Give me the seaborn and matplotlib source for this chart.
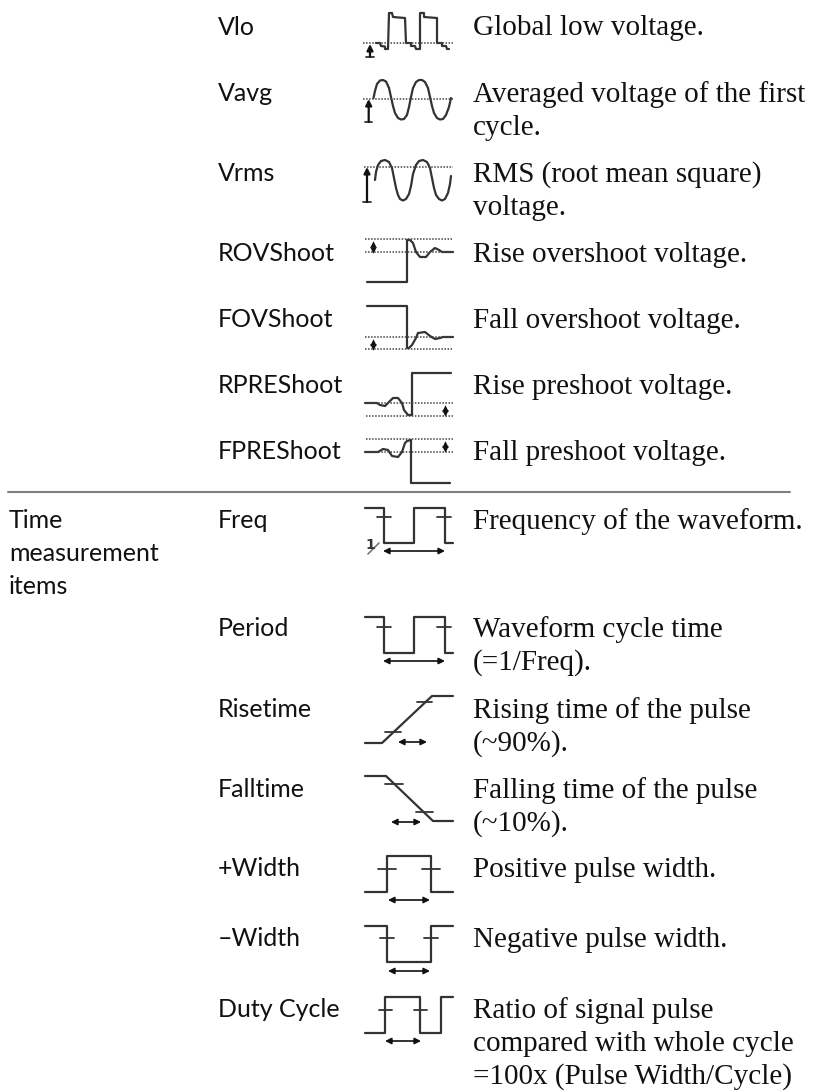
import matplotlib
matplotlib.use("Agg")
import matplotlib.pyplot as plt
import pandas as pd
import seaborn as sns

sns.set_style("white")

# table text: (x col text, baseline)
group_lines = ["Time", "measurement", "items"]
group_base = [528, 561, 594]

labels = ["Vlo", "Vavg", "Vrms", "ROVShoot", "FOVShoot", "RPREShoot", "FPREShoot",
          "Freq", "Period", "Risetime", "Falltime", "+Width", "–Width", "Duty Cycle"]
label_base = [35, 101, 181, 261, 327, 393, 459, 528, 636, 717, 797, 876, 946, 1017]

desc_lines = ["Global low voltage.", "Averaged voltage of the first", "cycle.",
              "RMS (root mean square)", "voltage.", "Rise overshoot voltage.",
              "Fall overshoot voltage.", "Rise preshoot voltage.", "Fall preshoot voltage.",
              "Frequency of the waveform.", "Waveform cycle time", "(=1/Freq).",
              "Rising time of the pulse", "(~90%).", "Falling time of the pulse", "(~10%).",
              "Positive pulse width.", "Negative pulse width.", "Ratio of signal pulse",
              "compared with whole cycle", "=100x (Pulse Width/Cycle)"]
desc_base = [35, 102, 135, 182, 215, 262, 328, 394, 460, 529, 637, 670, 718, 751,
             798, 831, 877, 947, 1018, 1051, 1084]

# waveforms
vlo_x = [376, 380, 381, 385, 385, 388, 389, 392, 393, 405, 406, 411, 411, 415, 416, 420, 420, 424, 424, 437, 437, 442, 442, 446, 447, 449]
vlo_y = [43, 43, 46, 46.5, 49, 49, 13, 13, 17, 18, 43, 43, 46, 46, 49, 49, 13, 13, 17, 18, 43, 43, 46, 46, 49, 49]
vavg_x = [373.5, 375, 377, 380, 383, 386, 389, 391, 393, 395, 398, 401, 404, 407, 409, 411, 413, 416, 419, 422, 425, 428, 430, 432, 434, 437, 440, 443, 446, 449, 451]
vavg_y = [98, 91, 84, 80.5, 80, 81.5, 88, 97, 106, 113, 118, 119.5, 119, 115, 107, 97, 88, 82, 80, 80, 82, 88, 97, 106, 113, 118, 119.5, 119, 115, 107, 98]
vrms_x = [375, 376, 378, 381, 385, 389, 392, 394, 396, 398, 400, 403, 406, 409, 411, 413, 416, 419, 423, 427, 430, 432, 434, 436, 439, 442, 445, 448, 450, 451]
vrms_y = [180, 172, 165, 161, 160, 162, 168, 178, 188, 195, 199, 200.5, 199, 194, 186, 174, 165, 161, 160, 162, 168, 178, 188, 195, 199, 200.5, 199, 193, 184, 176]
rov_x = [367, 407, 407, 410, 413, 416, 420, 426, 430, 435, 439, 442, 453]
rov_y = [282, 282, 240, 240, 243, 252, 257, 257, 252, 248, 250, 252, 252]
fov_x = [367, 407, 407, 409, 412, 416, 418, 425, 430, 435, 440, 443, 453]
fov_y = [306, 306, 348, 348, 345, 338, 333, 332, 336, 339, 338, 337, 337]
rpre_x = [365, 377, 380, 385, 389, 393, 398, 402, 404, 408, 412, 412, 451]
rpre_y = [403, 403, 405, 406, 402, 398, 398, 403, 410, 415, 415, 373, 373]
fpre_x = [365, 378, 383, 388, 392, 398, 402, 405, 407, 411, 411, 450]
fpre_y = [452, 452, 449, 450, 456, 457, 452, 443, 441, 440, 483, 483]
freq_x = [365, 384, 384, 414, 414, 445, 445, 453]
freq_y = [508, 508, 543, 543, 508, 508, 543, 543]
period_x = [365, 384, 384, 414, 414, 445, 445, 453]
period_y = [617, 617, 653, 653, 617, 617, 653, 653]
rise_x = [365, 382, 432, 453]
rise_y = [743, 743, 696, 696]
fall_x = [365, 386, 433, 453]
fall_y = [776, 776, 821, 821]
pwidth_x = [365, 387, 387, 431, 431, 453]
pwidth_y = [892, 892, 856, 856, 892, 892]
nwidth_x = [365, 387, 387, 431, 431, 453]
nwidth_y = [926, 926, 962, 962, 926, 926]
duty_x = [365, 385, 385, 420, 420, 441, 441, 453]
duty_y = [1033, 1033, 997, 997, 1033, 1033, 997, 997]

waves = [(vlo_x, vlo_y), (vavg_x, vavg_y), (vrms_x, vrms_y), (rov_x, rov_y), (fov_x, fov_y),
         (rpre_x, rpre_y), (fpre_x, fpre_y), (freq_x, freq_y), (period_x, period_y),
         (rise_x, rise_y), (fall_x, fall_y), (pwidth_x, pwidth_y), (nwidth_x, nwidth_y),
         (duty_x, duty_y)]

# threshold marks on the edges: x0, x1, y
ticks = [(377, 391, 517), (437, 451, 517), (377, 391, 627), (437, 451, 627),
         (385, 401, 732), (417, 432, 702), (385, 403, 784), (416, 433, 812),
         (378, 396, 869), (422, 440, 869), (380, 394, 938), (424, 438, 938),
         (379, 392, 1010), (414, 427, 1010),
         (366, 374, 56.7), (365, 372, 122), (363, 371, 202)]

# dotted reference levels: x0, x1, y
levels = [(363, 453, 43), (363, 453, 98.7), (364, 453, 166.7), (365, 452, 239.3),
          (365, 452, 252.3), (365, 452, 337), (365, 452, 349), (366, 453, 403),
          (366, 453, 415.7), (366, 453, 439), (366, 453, 452)]

# width arrows: x0, x1, y
h_arrows = [(383, 445, 551), (383, 445, 661), (398, 427, 742), (391, 421, 822),
            (388, 430, 900), (388, 430, 971), (385, 421, 1041)]
# level arrows from the baseline mark: x, y0, y1
v_arrows = [(370, 56.7, 44), (368.7, 122, 99), (367, 202, 167)]
# small two-headed arrows between the dotted levels
d_x = [372.7, 373, 445, 445]
d_top = [243.5, 342, 407.5, 443.5]
d_bottom = [249.5, 346.5, 412.5, 449]


def long_form(shapes):
    rows = []
    for i, (xs, ys) in enumerate(shapes):
        for x, y in zip(xs, ys):
            rows.append({"shape": i, "x": x, "y": y})
    return pd.DataFrame(rows)


fig = plt.figure(figsize=(8.2, 10.92), dpi=100)
ax = fig.add_axes([0, 0, 1, 1])

dark = "#333333"
sns.lineplot(data=long_form(waves), x="x", y="y", units="shape", estimator=None, sort=False,
             color=dark, lw=1.6, ax=ax, legend=False)
sns.lineplot(data=long_form([((a, b), (y, y)) for a, b, y in ticks]), x="x", y="y", units="shape",
             estimator=None, sort=False, color=dark, lw=1.3, ax=ax, legend=False)
sns.lineplot(data=long_form([((a, b), (y, y)) for a, b, y in levels]), x="x", y="y", units="shape",
             estimator=None, sort=False, color="#444444", lw=1.1, ls=(0, (1, 1)), ax=ax, legend=False)
# rule between the voltage and the time block
sns.lineplot(x=[8, 790], y=[492, 492], color="#808080", lw=1.5, ax=ax, legend=False)
# the "1/" of the frequency icon
sns.lineplot(x=[368, 379], y=[554, 543], color="#777777", lw=1.2, ax=ax, legend=False)
ax.text(370, 549, "1", fontsize=10, fontweight="bold", color=dark, ha="center", family="DejaVu Sans")

head = dict(arrowstyle="<|-|>", color="#111111", lw=1.2, mutation_scale=9, shrinkA=0, shrinkB=0)
for x0, x1, y in h_arrows:
    ax.annotate("", xy=(x0, y), xytext=(x1, y), arrowprops=head)
for x, y0, y1 in v_arrows:
    ax.annotate("", xy=(x, y1), xytext=(x, y0),
                arrowprops=dict(arrowstyle="-|>", color="#111111", lw=1.6, mutation_scale=9, shrinkA=0, shrinkB=0))
sns.scatterplot(x=d_x, y=d_top, marker="^", s=22, color="#111111", linewidth=0, ax=ax, legend=False)
sns.scatterplot(x=d_x, y=d_bottom, marker="v", s=22, color="#111111", linewidth=0, ax=ax, legend=False)

for t, y in zip(group_lines, group_base):
    ax.text(9, y, t, fontsize=18, family="Lato", color="#111111", va="baseline")
for t, y in zip(labels, label_base):
    ax.text(218, y, t, fontsize=18, family="Lato", color="#111111", va="baseline")
for t, y in zip(desc_lines, desc_base):
    ax.text(473, y, t, fontsize=21, family="Liberation Serif", color="#111111", va="baseline")

ax.set_xlim(0, 820)
ax.set_ylim(1092, 0)
ax.axis("off")

fig.savefig("out.png", dpi=100)
